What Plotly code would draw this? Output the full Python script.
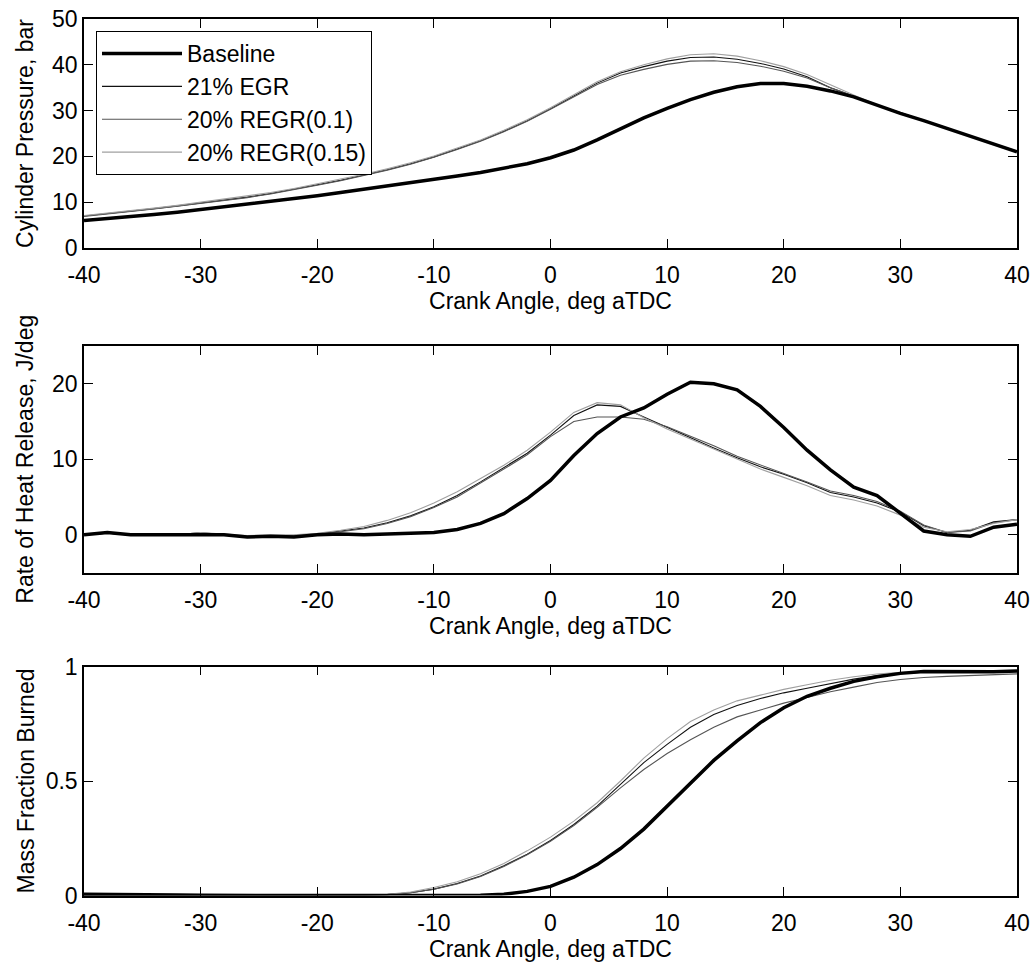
import plotly.graph_objects as go

# ---------------- data ----------------
crank_angle = [-40, -38, -36, -34, -32, -30, -28, -26, -24, -22, -20, -18, -16, -14, -12, -10,
               -8, -6, -4, -2, 0, 2, 4, 6, 8, 10, 12, 14, 16, 18, 20, 22, 24, 26, 28, 30,
               32, 34, 36, 38, 40]

series_names = ["Baseline", "21% EGR", "20% REGR(0.1)", "20% REGR(0.15)"]

# Cylinder pressure, bar
p_baseline = [6.0, 6.4, 6.9, 7.3, 7.8, 8.4, 8.9, 9.5, 10.1, 10.7, 11.4, 12.1, 12.8, 13.5, 14.2, 15.0,
              15.7, 16.5, 17.4, 18.4, 19.7, 21.4, 23.6, 26.0, 28.4, 30.5, 32.4, 34.0, 35.2, 35.9, 35.9,
              35.3, 34.3, 33.0, 31.1, 29.4, 27.8, 26.1, 24.3, 22.7, 21.0]
p_egr21 = [7.0, 7.5, 8.0, 8.6, 9.2, 9.8, 10.4, 11.1, 11.9, 12.8, 13.8, 14.8, 15.9, 17.1, 18.4, 19.9,
           21.6, 23.4, 25.5, 27.8, 30.4, 33.2, 36.0, 38.2, 39.6, 40.8, 41.6, 41.7, 41.2, 40.3, 39.1,
           37.4, 35.0, 33.2, 31.2, 29.5, 27.9, 26.2, 24.4, 22.8, 21.1]
p_regr01 = [6.9, 7.4, 7.9, 8.5, 9.1, 9.7, 10.3, 11.0, 11.8, 12.7, 13.7, 14.7, 15.8, 17.0, 18.3, 19.8,
            21.5, 23.3, 25.4, 27.7, 30.3, 33.0, 35.7, 37.7, 39.0, 40.1, 40.8, 40.9, 40.5, 39.7, 38.6,
            37.1, 35.0, 33.2, 31.2, 29.5, 27.9, 26.2, 24.4, 22.8, 21.1]
p_regr015 = [7.1, 7.6, 8.1, 8.7, 9.3, 10.0, 10.6, 11.3, 12.1, 13.0, 14.0, 15.0, 16.1, 17.3, 18.6, 20.1,
             21.8, 23.6, 25.7, 28.0, 30.6, 33.4, 36.3, 38.5, 40.0, 41.3, 42.2, 42.4, 41.9, 40.9, 39.6,
             37.9, 35.6, 33.4, 31.3, 29.6, 27.9, 26.2, 24.4, 22.8, 21.1]

# Rate of heat release, J/deg
hr_baseline = [0.0, 0.3, 0.0, 0.0, 0.1, 0.0, 0.0, -0.3, -0.2, -0.3, 0.0, 0.1, 0.0, 0.1, 0.2, 0.3,
               0.7, 1.5, 2.8, 4.8, 7.2, 10.5, 13.4, 15.6, 16.8, 18.6, 20.2, 20.0, 19.2, 17.0, 14.2,
               11.2, 8.6, 6.3, 5.2, 2.8, 0.5, 0.0, -0.2, 1.0, 1.4]
hr_egr21 = [0.0, 0.2, 0.0, 0.1, 0.0, 0.3, 0.0, -0.2, -0.1, -0.1, 0.1, 0.5, 0.9, 1.6, 2.5, 3.7,
            5.2, 7.0, 8.9, 10.8, 13.2, 15.8, 17.2, 17.0, 15.6, 14.2, 12.9, 11.5, 10.2, 9.0, 8.0,
            6.9, 5.6, 5.0, 4.2, 3.0, 1.2, 0.3, 0.6, 1.7, 2.0]
hr_regr01 = [0.0, 0.2, 0.0, 0.1, 0.0, 0.2, 0.0, -0.2, -0.1, -0.1, 0.1, 0.4, 0.8, 1.5, 2.4, 3.6,
             5.0, 6.8, 8.7, 10.6, 13.0, 15.0, 15.6, 15.6, 15.3, 14.3, 13.1, 11.8, 10.4, 9.2, 8.1,
             7.0, 5.8, 5.2, 4.4, 3.1, 1.3, 0.3, 0.5, 1.6, 2.0]
hr_regr015 = [0.0, 0.2, 0.1, 0.1, 0.0, 0.3, 0.1, -0.1, 0.0, 0.0, 0.2, 0.6, 1.1, 1.9, 2.9, 4.2,
              5.7, 7.4, 9.2, 11.2, 13.6, 16.2, 17.5, 17.2, 15.5, 14.0, 12.7, 11.3, 10.0, 8.7, 7.6,
              6.5, 5.2, 4.6, 3.8, 2.6, 1.0, 0.4, 0.7, 1.5, 2.0]

# Mass fraction burned
mfb_baseline = [0.005, 0.005, 0.005, 0.004, 0.002, 0.001, 0.0, 0.0, 0.0, 0.0, 0.0, 0.0, 0.0, 0.0,
                0.0, 0.0, 0.0, 0.001, 0.006, 0.018, 0.04, 0.08, 0.135, 0.205, 0.29, 0.39, 0.49,
                0.59, 0.675, 0.755, 0.82, 0.87, 0.905, 0.935, 0.955, 0.97, 0.978, 0.978, 0.975,
                0.977, 0.98]
mfb_egr21 = [0.0, 0.0, 0.0, 0.0, 0.0, 0.0, 0.0, 0.0, 0.0, 0.0, 0.0, 0.0, 0.001, 0.004, 0.012, 0.028,
             0.052, 0.085, 0.13, 0.18, 0.24, 0.31, 0.39, 0.485, 0.58, 0.66, 0.735, 0.79, 0.83,
             0.86, 0.885, 0.905, 0.925, 0.945, 0.96, 0.97, 0.975, 0.978, 0.98, 0.98, 0.98]
mfb_regr01 = [0.0, 0.0, 0.0, 0.0, 0.0, 0.0, 0.0, 0.0, 0.0, 0.0, 0.0, 0.0, 0.001, 0.004, 0.012, 0.027,
              0.05, 0.083, 0.127, 0.178, 0.237, 0.305, 0.385, 0.47, 0.55, 0.62, 0.68, 0.735, 0.78,
              0.81, 0.84, 0.865, 0.89, 0.91, 0.93, 0.943, 0.952, 0.957, 0.96, 0.965, 0.968]
mfb_regr015 = [0.0, 0.0, 0.0, 0.0, 0.0, 0.0, 0.0, 0.0, 0.0, 0.0, 0.0, 0.0, 0.002, 0.005, 0.015, 0.035,
               0.06, 0.095, 0.14, 0.195, 0.255, 0.325, 0.405, 0.5, 0.6, 0.685, 0.76, 0.81, 0.85,
               0.875, 0.9, 0.92, 0.94, 0.955, 0.967, 0.975, 0.98, 0.98, 0.98, 0.98, 0.98]

x_ticks = [-40, -30, -20, -10, 0, 10, 20, 30, 40]
x_ticktext = ["-40", "-30", "-20", "-10", "0", "10", "20", "30", "40"]
y1_ticks = [0, 10, 20, 30, 40, 50]
y2_ticks = [0, 10, 20]
y3_ticks = [0, 0.5, 1]
y3_ticktext = ["0", "0.5", "1"]

# ---------------- styling ----------------
colors = ["#000000", "#111111", "#555555", "#a0a0a0"]
widths = [3.5, 1.1, 1.1, 1.1]
FONT = "Liberation Sans, Arial, sans-serif"
FS = 23

fig = go.Figure()
panels = [
    ([p_baseline, p_egr21, p_regr01, p_regr015], "x", "y"),
    ([hr_baseline, hr_egr21, hr_regr01, hr_regr015], "x2", "y2"),
    ([mfb_baseline, mfb_egr21, mfb_regr01, mfb_regr015], "x3", "y3"),
]
order = [1, 2, 3, 0]
for pi, (ser, xa, ya) in enumerate(panels):
    for i in order:
        fig.add_trace(go.Scatter(
            x=crank_angle, y=ser[i], mode="lines", name=series_names[i],
            xaxis=xa, yaxis=ya,
            line=dict(color=colors[i], width=widths[i]),
            showlegend=(pi == 0), legendgroup=series_names[i], legendrank=i + 1,
        ))

W, H = 1031, 963
xdom = [84 / W, 1017 / W]
ydoms = [[1 - 248 / H, 1 - 19 / H], [1 - 572.5 / H, 1 - 346 / H], [1 - 895.5 / H, 1 - 666.5 / H]]

def xax(anchor):
    return dict(
        domain=xdom, anchor=anchor, range=[-40, 40], tickvals=x_ticks, ticktext=x_ticktext,
        showline=True, linecolor="black", linewidth=1.5, mirror="ticks",
        ticks="inside", ticklen=9, tickwidth=1, tickcolor="black",
        showgrid=False, zeroline=False, ticklabelstandoff=6,
        title=dict(text="Crank Angle, deg aTDC", standoff=6, font=dict(size=FS)),
        automargin=False,
    )

def yax(dom, anchor, rng, tv, title, standoff, tt=None):
    d = dict(
        domain=dom, anchor=anchor, range=rng, tickvals=tv,
        showline=True, linecolor="black", linewidth=1.5, mirror="ticks",
        ticks="inside", ticklen=9, tickwidth=1, tickcolor="black",
        showgrid=False, zeroline=False,
        title=dict(text=title, standoff=standoff, font=dict(size=FS)),
        automargin=False,
    )
    if tt is not None:
        d["ticktext"] = tt
    return d

fig.update_layout(
    width=W, height=H,
    margin=dict(l=0, r=0, t=0, b=0),
    paper_bgcolor="white", plot_bgcolor="white",
    font=dict(family=FONT, size=FS, color="black"),
    xaxis=xax("y"), xaxis2=xax("y2"), xaxis3=xax("y3"),
    yaxis=yax(ydoms[0], "x", [0, 50], y1_ticks, "Cylinder Pressure, bar", 12),
    yaxis2=yax(ydoms[1], "x2", [-5, 25], y2_ticks, "Rate of Heat Release, J/deg", 12),
    yaxis3=yax(ydoms[2], "x3", [0, 1], y3_ticks, "Mass Fraction Burned", 5, y3_ticktext),
    legend=dict(
        x=96 / W, y=1 - 31 / H, xanchor="left", yanchor="top",
        bgcolor="white", bordercolor="black", borderwidth=1,
        font=dict(size=FS, family=FONT), itemwidth=80, tracegroupgap=8,
        traceorder="normal",
    ),
    showlegend=True,
)

fig.write_html(
    "out.html",
    config={"displayModeBar": False},
    post_script="document.body.style.margin='0';document.body.style.overflow='hidden';",
)
